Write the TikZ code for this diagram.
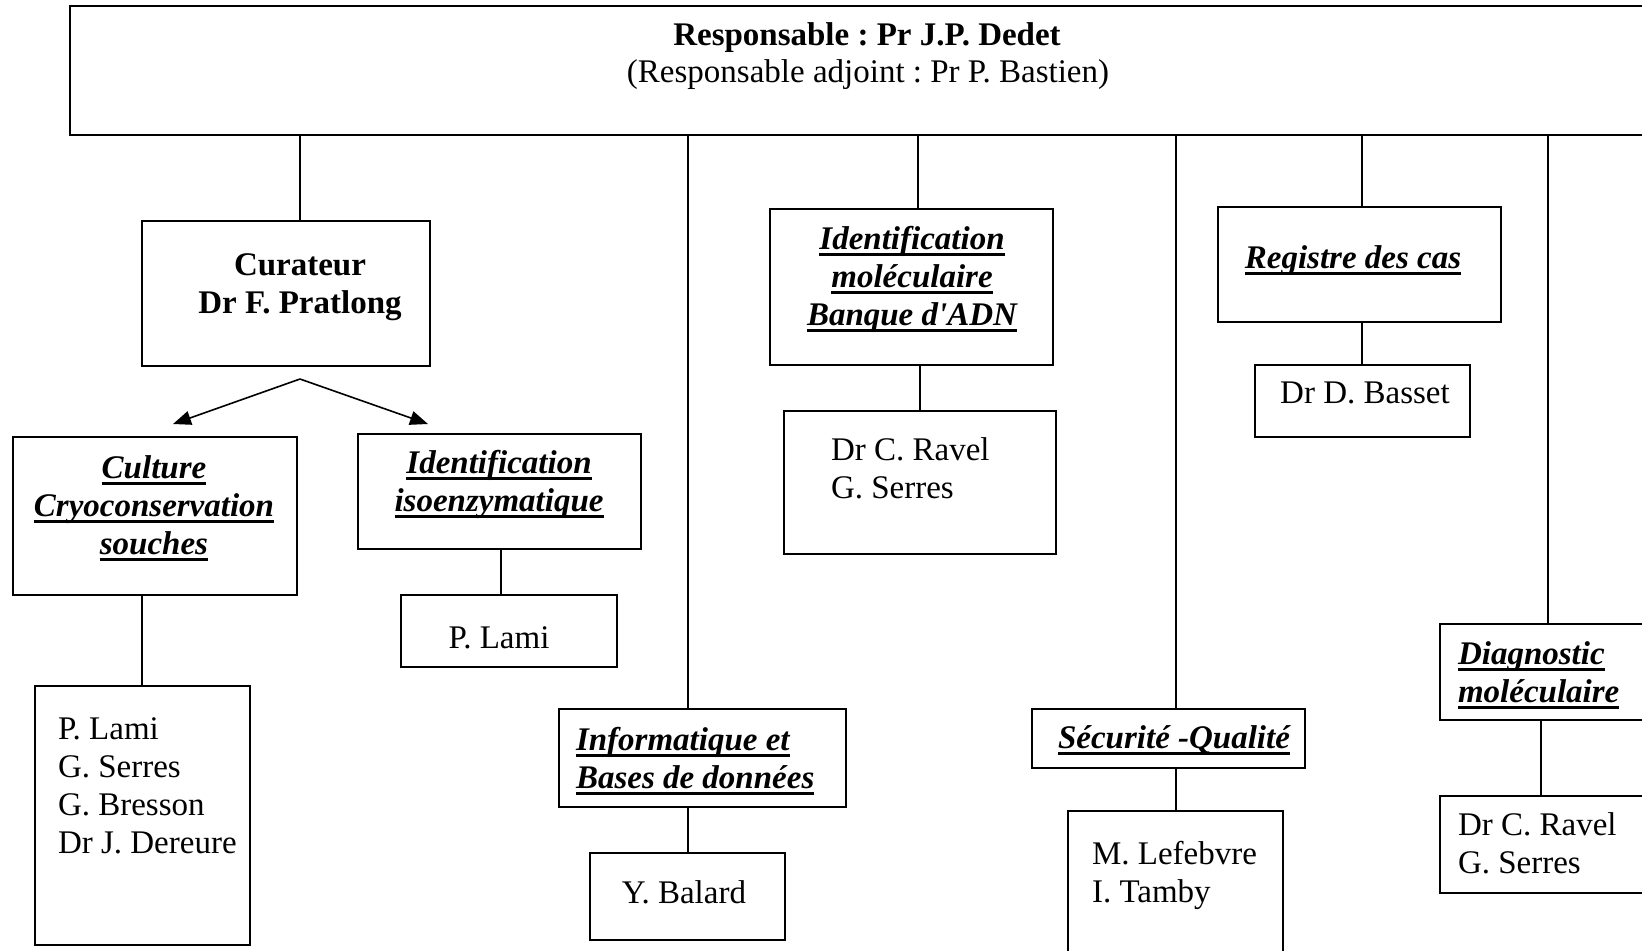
\documentclass[tikz,border=0pt]{standalone}
\usepackage{fontspec}
\setmainfont{Liberation Serif}
\usetikzlibrary{arrows.meta}
\frenchspacing
\newsavebox{\ulbox}
\newcommand{\uln}[1]{\sbox{\ulbox}{#1}\leavevmode\rlap{\rule[-3.7pt]{\wd\ulbox}{1.5pt}}\usebox{\ulbox}}
\newcommand{\mybox}[5]{\node[box, minimum width={(#4-#2)*0.5pt}, minimum height={(#5-#3)*0.5pt}] (#1) at ({(#2+#4)/2},{(#3+#5)/2}) {};}
\tikzset{
  box/.style={draw, line width=1pt, inner sep=0pt, outer sep=0pt},
  conn/.style={draw, line width=0.8pt},
  txt/.style={inner sep=0pt, outer sep=0pt, font=\fontsize{16.5}{19}\selectfont\frenchspacing, anchor=base},
  bld/.style={txt, font=\fontsize{16.5}{19}\selectfont\frenchspacing\bfseries},
  ttl/.style={txt, font=\fontsize{16.5}{19}\selectfont\frenchspacing\bfseries\itshape},
  arr/.style={conn, -{Triangle[length=9pt,width=7pt]}},
}
\begin{document}
\begin{tikzpicture}[x=0.5pt,y=-0.5pt]
\useasboundingbox (0,0) rectangle (1642,950);
\clip (0,0) rectangle (1642,950);
% boxes
\mybox{top}{70}{6}{1700}{135}
\mybox{cur}{142}{221}{430}{366}
\mybox{cult}{13}{437}{297}{595}
\mybox{iso}{358}{434}{641}{549}
\mybox{list1}{34.5}{686}{250}{945}
\mybox{lami2}{401}{595}{617}{667}
\mybox{info}{559}{709}{846}{807}
\mybox{balard}{590}{853}{785}{940}
\mybox{idmol}{770}{209}{1053}{365}
\mybox{ravel1}{784}{411}{1056}{554}
\mybox{reg}{1218}{207}{1501}{322}
\mybox{basset}{1255}{365}{1470}{437}
\mybox{secu}{1032}{709}{1305}{768}
\mybox{lefeb}{1068}{811}{1283}{990}
\mybox{diag}{1440}{624}{1700}{720}
\mybox{ravel2}{1440}{796}{1700}{893}
% texts (multi-line nodes: base = baseline of last line)
\node[bld] (t-top1) at (867,45) {Responsable : Pr J.P. Dedet};
\node[txt] (t-top2) at (868,82) {(Responsable adjoint : Pr P. Bastien)};
\node[bld, align=center] (t-cur) at (300,313) {Curateur\\Dr F. Pratlong};
\node[ttl, align=center] (t-cult) at (154,554) {\uln{Culture}\\\uln{Cryoconservation}\\\uln{souches}};
\node[ttl, align=center] (t-iso) at (499,511) {\uln{Identification}\\\uln{isoenzymatique}};
\node[txt] (t-lami2) at (499,648) {P. Lami};
\node[txt, anchor=base west, align=left] (t-list1) at (58,853) {P. Lami\\G. Serres\\G. Bresson\\Dr J. Dereure};
\node[ttl, anchor=base west, align=left] (t-info) at (576,788) {\uln{Informatique et}\\\uln{Bases de données}};
\node[txt] (t-balard) at (684,903) {Y. Balard};
\node[ttl, align=center] (t-idmol) at (912,325) {\uln{Identification}\\\uln{moléculaire}\\\uln{Banque d\textquotesingle ADN}};
\node[txt, anchor=base west, align=left] (t-ravel1) at (831,498) {Dr C. Ravel\\G. Serres};
\node[ttl] (t-reg) at (1353,268) {\uln{Registre des cas}};
\node[txt] (t-basset) at (1365,403) {Dr D. Basset};
\node[ttl] (t-secu) at (1174,748) {\uln{Sécurité -Qualité}};
\node[txt, anchor=base west, align=left] (t-lefeb) at (1092,902) {M. Lefebvre\\I. Tamby};
\node[ttl, anchor=base west, align=left] (t-diag) at (1458,702) {\uln{Diagnostic}\\\uln{moléculaire}};
\node[txt, anchor=base west, align=left] (t-ravel2) at (1458,873) {Dr C. Ravel\\G. Serres};
% connector coordinates
\coordinate (k1) at (300,0);
\coordinate (k2) at (688,0);
\coordinate (k3) at (918,0);
\coordinate (k4) at (1176,0);
\coordinate (k5) at (1362,0);
\coordinate (k6) at (1548,0);
\coordinate (k7) at (142,0);
\coordinate (k8) at (501,0);
\coordinate (k10) at (920,0);
\coordinate (k13) at (1541,0);
\draw[conn] (k1 |- top.south) -- (k1 |- cur.north);
\draw[conn] (k2 |- top.south) -- (k2 |- info.north);
\draw[conn] (k3 |- top.south) -- (k3 |- idmol.north);
\draw[conn] (k4 |- top.south) -- (k4 |- secu.north);
\draw[conn] (k5 |- top.south) -- (k5 |- reg.north);
\draw[conn] (k6 |- top.south) -- (k6 |- diag.north);
\draw[conn] (k7 |- cult.south) -- (k7 |- list1.north);
\draw[conn] (k8 |- iso.south) -- (k8 |- lami2.north);
\draw[conn] (k2 |- info.south) -- (k2 |- balard.north);
\draw[conn] (k10 |- idmol.south) -- (k10 |- ravel1.north);
\draw[conn] (k5 |- reg.south) -- (k5 |- basset.north);
\draw[conn] (k4 |- secu.south) -- (k4 |- lefeb.north);
\draw[conn] (k13 |- diag.south) -- (k13 |- ravel2.north);
% arrows
\coordinate (split) at (300,379);
\coordinate (aL) at (173,424);
\coordinate (aR) at (428,424);
\draw[arr] (split) -- (aL);
\draw[arr] (split) -- (aR);
\end{tikzpicture}
\end{document}
